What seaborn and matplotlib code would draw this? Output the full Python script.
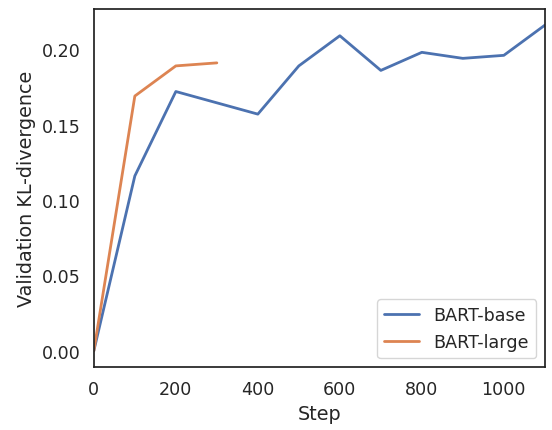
import pandas as pd
import numpy as np
import matplotlib
matplotlib.use("Agg")
import matplotlib.pyplot as plt
import seaborn as sns

base_steps = [0, 100, 200, 400, 500, 600, 700, 800, 900, 1000, 1100]
base_kl = [0.0, 0.116, 0.172, 0.157, 0.189, 0.209, 0.186, 0.198, 0.194, 0.196, 0.216]
large_steps = [0, 100, 200, 300]
large_kl = [0.0, 0.169, 0.189, 0.191]

df = pd.concat([
    pd.DataFrame({"Step": base_steps, "kl": base_kl, "model": "BART-base"}),
    pd.DataFrame({"Step": large_steps, "kl": large_kl, "model": "BART-large"}),
])

sns.set_theme(style="white", font_scale=1.15)

fig, ax = plt.subplots(figsize=(5.52, 4.31), dpi=100)
sns.lineplot(data=df, x="Step", y="kl", hue="model", ax=ax, linewidth=2)
ax.set_xlim(0, 1100)
ax.set_ylabel("Validation KL-divergence")
ax.set_xlabel("Step")
ax.legend(loc="lower right")
for s in ax.spines.values():
    s.set_color("#222222")

plt.subplots_adjust(left=0.17, right=0.987, top=0.977, bottom=0.146)
plt.savefig("out.png")
